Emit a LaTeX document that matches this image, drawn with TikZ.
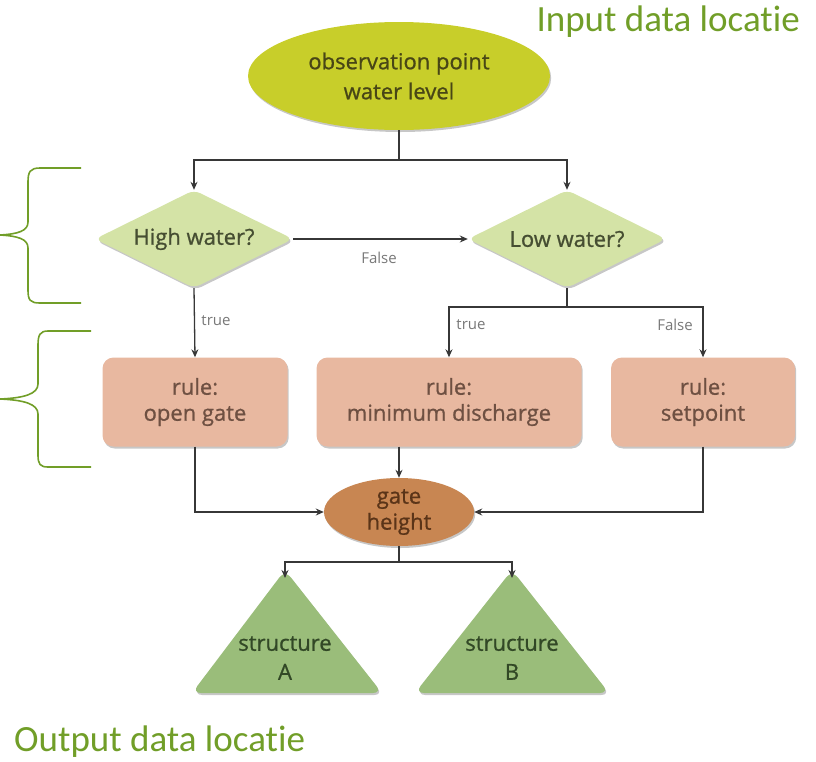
\documentclass[tikz,border=0pt]{standalone}
\usepackage{fontspec}
\setmainfont{Open Sans}
\newfontfamily\boxfont[FakeBold=0.9]{Open Sans}
\newfontfamily\labelfont[Ligatures=NoCommon]{Carlito}
\usetikzlibrary{shapes.geometric,arrows.meta,shadows}

\definecolor{leafgreen}{RGB}{113,158,40}
\definecolor{obsfill}{RGB}{200,206,42}
\definecolor{obstext}{RGB}{72,70,22}
\definecolor{decfill}{RGB}{212,227,166}
\definecolor{dectext}{RGB}{70,78,50}
\definecolor{rulefill}{RGB}{232,184,160}
\definecolor{ruletext}{RGB}{110,80,66}
\definecolor{gatefill}{RGB}{200,134,82}
\definecolor{gatetext}{RGB}{90,52,24}
\definecolor{structfill}{RGB}{154,189,122}
\definecolor{structtext}{RGB}{50,72,38}
\definecolor{wire}{RGB}{55,55,55}
\definecolor{tagtext}{RGB}{120,120,120}

\begin{document}
\begin{tikzpicture}[x=1pt,y=-1pt,
  soft/.style={drop shadow={shadow xshift=1.2pt,shadow yshift=-2pt,opacity=0.22,fill=black}},
  txt/.style={font=\boxfont\fontsize{22}{26}\selectfont,align=center,inner sep=0pt},
  startnode/.style={txt,font=\boxfont\fontsize{22}{30}\selectfont,shape=ellipse,fill=obsfill,text=obstext,minimum width=302pt,minimum height=108pt,soft},
  decision/.style={txt,shape=diamond,aspect=2,fill=decfill,text=dectext,rounded corners=7pt,minimum width=198pt,minimum height=98pt,soft},
  rulebox/.style={txt,shape=rectangle,fill=rulefill,text=ruletext,rounded corners=11pt,minimum height=89pt,soft},
  gatenode/.style={txt,shape=ellipse,fill=gatefill,text=gatetext,minimum width=150pt,minimum height=68pt,soft},
  structtxt/.style={txt,font=\boxfont\fontsize{22}{29}\selectfont,text=structtext},
  tag/.style={font=\fontsize{15}{17}\selectfont,text=tagtext,inner sep=0pt},
  wireline/.style={draw=wire,line width=1.3pt},
  flow/.style={wireline,-{Stealth[length=8pt,width=7pt]}},
  bracket/.style={draw=leafgreen,line width=1.6pt},
  heading/.style={font=\labelfont\fontsize{37}{40}\selectfont,text=leafgreen,inner sep=0pt}
]
\useasboundingbox (0,0) rectangle (816,761);

% headings
\node[heading,anchor=east] (inlabel) at (800,22) {Input data locatie};
\node[heading,anchor=west] (outlabel) at (14,742) {Output data locatie};

% nodes
\node[startnode] (obs) at (399,76) {observation point\\water level};
\node[decision] (high) at (194,239) {High water?};
\node[decision] (low) at (567,239) {Low water?};
\node[rulebox,minimum width=185pt] (open) at (195,402) {rule:\\open gate};
\node[rulebox,minimum width=265pt] (mind) at (449,402) {rule:\\minimum discharge};
\node[rulebox,minimum width=184pt] (setp) at (703,402) {rule:\\setpoint};
\node[gatenode] (gate) at (399,512) {gate\\height};

% output structures (rounded triangles)
\fill[structfill,rounded corners=9pt,soft] (285,570) -- (382,693) -- (192,693) -- cycle;
\fill[structfill,rounded corners=9pt,soft] (512,570) -- (609,693) -- (415,693) -- cycle;
\coordinate (topA) at (285,578);
\coordinate (topB) at (512,578);
\node[structtxt] (stA) at (285,658) {structure\\A};
\node[structtxt] (stB) at (512,658) {structure\\B};

% junction points
\coordinate (jtop) at (399,160);
\coordinate (jlow) at (567,307);
\coordinate (jout) at (399,562);

% connectors
\draw[wireline] (obs.south) -- (jtop);
\draw[flow] (jtop) -| (high.north);
\draw[flow] (jtop) -| (low.north);
\draw[flow] (high.east) -- (low.west);
\draw[flow] (high.south) -- (open.north);
\draw[wireline] (low.south) -- (jlow);
\draw[flow] (jlow) -| (mind.north);
\draw[flow] (jlow) -| (setp.north);
\draw[flow] (gate.north |- mind.south) -- (gate.north);
\draw[flow] (open.south) |- (gate.west);
\draw[flow] (setp.south) |- (gate.east);
\draw[wireline] (gate.south) -- (jout);
\draw[flow] (jout) -| (topA);
\draw[flow] (jout) -| (topB);

% branch labels
\node[tag] (f1) at (379,258) {False};
\node[tag] (t1) at (216,321) {true};
\node[tag] (t2) at (471,325) {true};
\node[tag] (f2) at (675,325) {False};

% curly brackets
\draw[bracket] (81,168) -- (40,168) .. controls (30,168) and (28,172) .. (28,182)
  -- (28,222) .. controls (28,231) and (18,234) .. (0,235)
  .. controls (18,236) and (28,239) .. (28,248) -- (28,290)
  .. controls (28,300) and (30,303) .. (40,303) -- (81,303);
\draw[bracket] (91,331) -- (48,331) .. controls (40,331) and (38,335) .. (38,345)
  -- (38,384) .. controls (38,394) and (24,398) .. (0,399)
  .. controls (24,400) and (38,404) .. (38,414) -- (38,455)
  .. controls (38,464) and (40,467) .. (48,467) -- (91,467);
\end{tikzpicture}
\end{document}
